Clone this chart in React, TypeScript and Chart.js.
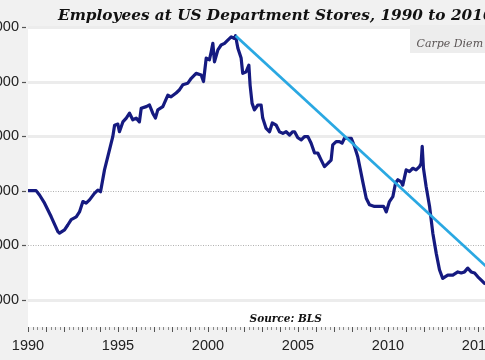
import React, { useEffect, useRef } from "react";
import { Chart, registerables } from "chart.js";

Chart.register(...registerables);

const titleText = "Employees at US Department Stores, 1990 to 2016";
const sourceText = "Source: BLS";
const brandText = "Carpe Diem";

const years = [
  1990.0, 1990.45, 1990.64, 1990.92, 1991.29, 1991.66, 1991.75, 1992.03, 1992.21, 1992.4,
  1992.68, 1992.86, 1993.05, 1993.23, 1993.42, 1993.69, 1993.88, 1994.03, 1994.25, 1994.43,
  1994.62, 1994.71, 1994.81, 1994.99, 1995.08, 1995.27, 1995.46, 1995.64, 1995.82, 1996.01,
  1996.19, 1996.29, 1996.57, 1996.75, 1996.93, 1997.08, 1997.21, 1997.49, 1997.77, 1997.95,
  1998.23, 1998.42, 1998.6, 1998.88, 1999.07, 1999.34, 1999.62, 1999.75, 1999.9, 2000.08,
  2000.18, 2000.27, 2000.36, 2000.55, 2000.73, 2000.92, 2001.1, 2001.29, 2001.47, 2001.53,
  2001.66, 2001.84, 2001.93, 2002.12, 2002.27, 2002.34, 2002.45, 2002.58, 2002.77, 2002.95,
  2003.04, 2003.23, 2003.42, 2003.57, 2003.79, 2003.97, 2004.16, 2004.34, 2004.53, 2004.71,
  2004.81, 2004.99, 2005.18, 2005.36, 2005.55, 2005.73, 2005.92, 2006.1, 2006.29, 2006.47,
  2006.66, 2006.84, 2006.93, 2007.12, 2007.3, 2007.45, 2007.58, 2007.77, 2007.96, 2008.14,
  2008.32, 2008.45, 2008.6, 2008.79, 2008.97, 2009.25, 2009.53, 2009.75, 2009.81, 2009.9,
  2010.08, 2010.27, 2010.42, 2010.55, 2010.73, 2010.82, 2011.01, 2011.19, 2011.38, 2011.56,
  2011.75, 2011.84, 2011.9, 2011.97, 2012.12, 2012.31, 2012.49, 2012.68, 2012.86, 2013.04,
  2013.32, 2013.6, 2013.88, 2014.07, 2014.25, 2014.43, 2014.62, 2014.81, 2014.99, 2015.18,
  2015.36, 2015.6,
];

const employees = [
  1500000, 1500000, 1492000, 1477000, 1452000, 1425000, 1422000, 1428000, 1437000, 1447000,
  1452000, 1461000, 1480000, 1477000, 1483000, 1495000, 1501000, 1498000, 1538000, 1562000,
  1587000, 1599000, 1620000, 1622000, 1608000, 1626000, 1633000, 1642000, 1630000, 1633000,
  1626000, 1651000, 1654000, 1657000, 1642000, 1633000, 1648000, 1654000, 1675000, 1672000,
  1679000, 1685000, 1694000, 1697000, 1706000, 1715000, 1712000, 1700000, 1743000, 1740000,
  1755000, 1770000, 1736000, 1758000, 1767000, 1770000, 1776000, 1782000, 1779000, 1784000,
  1761000, 1743000, 1715000, 1718000, 1730000, 1693000, 1660000, 1648000, 1657000, 1657000,
  1633000, 1614000, 1608000, 1624000, 1620000, 1608000, 1605000, 1608000, 1602000, 1608000,
  1608000, 1597000, 1593000, 1599000, 1599000, 1587000, 1569000, 1569000, 1556000, 1544000,
  1550000, 1556000, 1584000, 1590000, 1590000, 1587000, 1596000, 1596000, 1596000, 1581000,
  1562000, 1541000, 1516000, 1486000, 1474000, 1471000, 1471000, 1471000, 1468000, 1461000,
  1480000, 1489000, 1514000, 1520000, 1516000, 1510000, 1538000, 1535000, 1541000, 1538000,
  1544000, 1550000, 1581000, 1541000, 1507000, 1471000, 1422000, 1385000, 1355000, 1339000,
  1345000, 1345000, 1351000, 1349000, 1351000, 1358000, 1351000, 1349000, 1342000, 1336000,
  1330000, 1327000,
];

const trendYears = [2001.53, 2017];
const trendValues = [1784000, 1314000];

const yTickValues = [1300000, 1400000, 1500000, 1600000, 1700000, 1800000];
const dottedGridValues = [1400000, 1500000];

const X_MIN = 1990;
const X_MAX = 2017;
const Y_MIN = 1250000;
const Y_MAX = 1800000;

const CANVAS_W = 620;
const CANVAS_H = 360;
const SHIFT = 60;

const fmt = (v: number) => v.toLocaleString("en-US");

const decorPlugin = {
  id: "decor",
  beforeDraw(chart: any) {
    const { ctx, chartArea } = chart;
    const ys = chart.scales.y;
    ctx.save();
    ctx.fillStyle = "#f1f1f1";
    ctx.fillRect(0, 0, chart.width, chart.height);
    ctx.fillStyle = "#ffffff";
    ctx.fillRect(chartArea.left, chartArea.top, chartArea.right - chartArea.left, chartArea.bottom - chartArea.top);
    for (const v of yTickValues) {
      const y = Math.round(ys.getPixelForValue(v)) + 0.5;
      ctx.beginPath();
      if (dottedGridValues.includes(v)) {
        ctx.strokeStyle = "#b0b0b0";
        ctx.lineWidth = 1;
        ctx.setLineDash([1, 1.5]);
      } else {
        ctx.strokeStyle = "#ececec";
        ctx.lineWidth = 3;
        ctx.setLineDash([]);
      }
      ctx.moveTo(chartArea.left, y);
      ctx.lineTo(chartArea.right, y);
      ctx.stroke();
    }
    ctx.setLineDash([]);
    ctx.fillStyle = "#ededed";
    ctx.fillRect(410 + SHIFT, 25, chartArea.right - (410 + SHIFT), 28);
    ctx.fillStyle = "#5a5454";
    ctx.font = "italic 11px 'DejaVu Serif'";
    ctx.textAlign = "left";
    ctx.textBaseline = "alphabetic";
    ctx.fillText(brandText, 416.5 + SHIFT, 47);
    ctx.restore();
  },
  afterDraw(chart: any) {
    const { ctx, chartArea } = chart;
    const xs = chart.scales.x;
    const ys = chart.scales.y;
    ctx.save();
    ctx.fillStyle = "#111111";
    ctx.font = "italic bold 15.3px 'DejaVu Serif'";
    ctx.textAlign = "left";
    ctx.textBaseline = "alphabetic";
    ctx.fillText(titleText, 58 + SHIFT, 19.5);
    ctx.font = "italic bold 10.5px 'DejaVu Serif'";
    ctx.textAlign = "center";
    ctx.fillText(sourceText, 285.7 + SHIFT, 321.7);
    for (let q = X_MIN * 4; q <= X_MAX * 4; q++) {
      const yr = q / 4;
      const x = Math.round(xs.getPixelForValue(yr)) + 0.5;
      const major = q % 4 === 0;
      ctx.beginPath();
      ctx.strokeStyle = major ? "#555555" : "#8a8a8a";
      ctx.lineWidth = 1;
      ctx.moveTo(x, chartArea.bottom);
      ctx.lineTo(x, chartArea.bottom + (major ? 5 : 3));
      ctx.stroke();
    }
    for (const v of yTickValues) {
      const y = Math.round(ys.getPixelForValue(v)) + 0.5;
      ctx.beginPath();
      ctx.strokeStyle = "#555555";
      ctx.lineWidth = 1.2;
      ctx.moveTo(chartArea.left - 6, y);
      ctx.lineTo(chartArea.left - 2, y);
      ctx.stroke();
    }
    ctx.restore();
  },
};

export default function App() {
  const ref = useRef<HTMLCanvasElement | null>(null);

  useEffect(() => {
    if (!ref.current) return;
    const series = years.map((x, i) => ({ x, y: employees[i] }));
    const trend = trendYears.map((x, i) => ({ x, y: trendValues[i] }));
    const chart = new Chart(ref.current, {
      type: "line",
      data: {
        datasets: [
          {
            data: trend,
            borderColor: "#2aa8e2",
            borderWidth: 2.8,
            pointRadius: 0,
            tension: 0,
          },
          {
            data: series,
            borderColor: "#151a80",
            borderWidth: 3.2,
            pointRadius: 0,
            tension: 0,
            borderJoinStyle: "round",
          },
        ],
      },
      options: {
        responsive: false,
        animation: false,
        devicePixelRatio: 1,
        layout: { padding: { top: 27, right: 46, left: 0, bottom: 0 } },
        plugins: {
          legend: { display: false },
          tooltip: { enabled: false },
          title: { display: false },
        },
        scales: {
          x: {
            type: "linear",
            min: X_MIN,
            max: X_MAX,
            afterFit: (s: any) => {
              s.height = 33;
            },
            grid: { display: false, drawTicks: false },
            border: { display: false },
            ticks: {
              stepSize: 5,
              includeBounds: false,
              autoSkip: false,
              maxRotation: 0,
              padding: 10,
              color: "#222222",
              font: { family: "'Liberation Sans', Arial, sans-serif", size: 14.5 },
              callback: (v: any) => (Number(v) % 5 === 0 ? String(v) : ""),
            },
          },
          y: {
            type: "linear",
            min: Y_MIN,
            max: Y_MAX,
            afterFit: (s: any) => {
              s.width = 88;
            },
            afterBuildTicks: (s: any) => {
              s.ticks = yTickValues.map((v) => ({ value: v }));
            },
            grid: { display: false, drawTicks: false },
            border: { display: false },
            ticks: {
              padding: 9,
              color: "#222222",
              font: { family: "'Liberation Sans', Arial, sans-serif", size: 14.5 },
              callback: (v: any) => fmt(Number(v)),
            },
          },
        },
      },
      plugins: [decorPlugin],
    });
    return () => chart.destroy();
  }, []);

  return (
    <div
      style={{
        position: "fixed",
        left: 0,
        top: 0,
        width: 485,
        height: 360,
        overflow: "hidden",
        background: "#f1f1f1",
      }}
    >
      <canvas
        ref={ref}
        width={CANVAS_W}
        height={CANVAS_H}
        style={{ position: "absolute", left: -SHIFT, top: 0, width: CANVAS_W, height: CANVAS_H }}
      />
    </div>
  );
}
